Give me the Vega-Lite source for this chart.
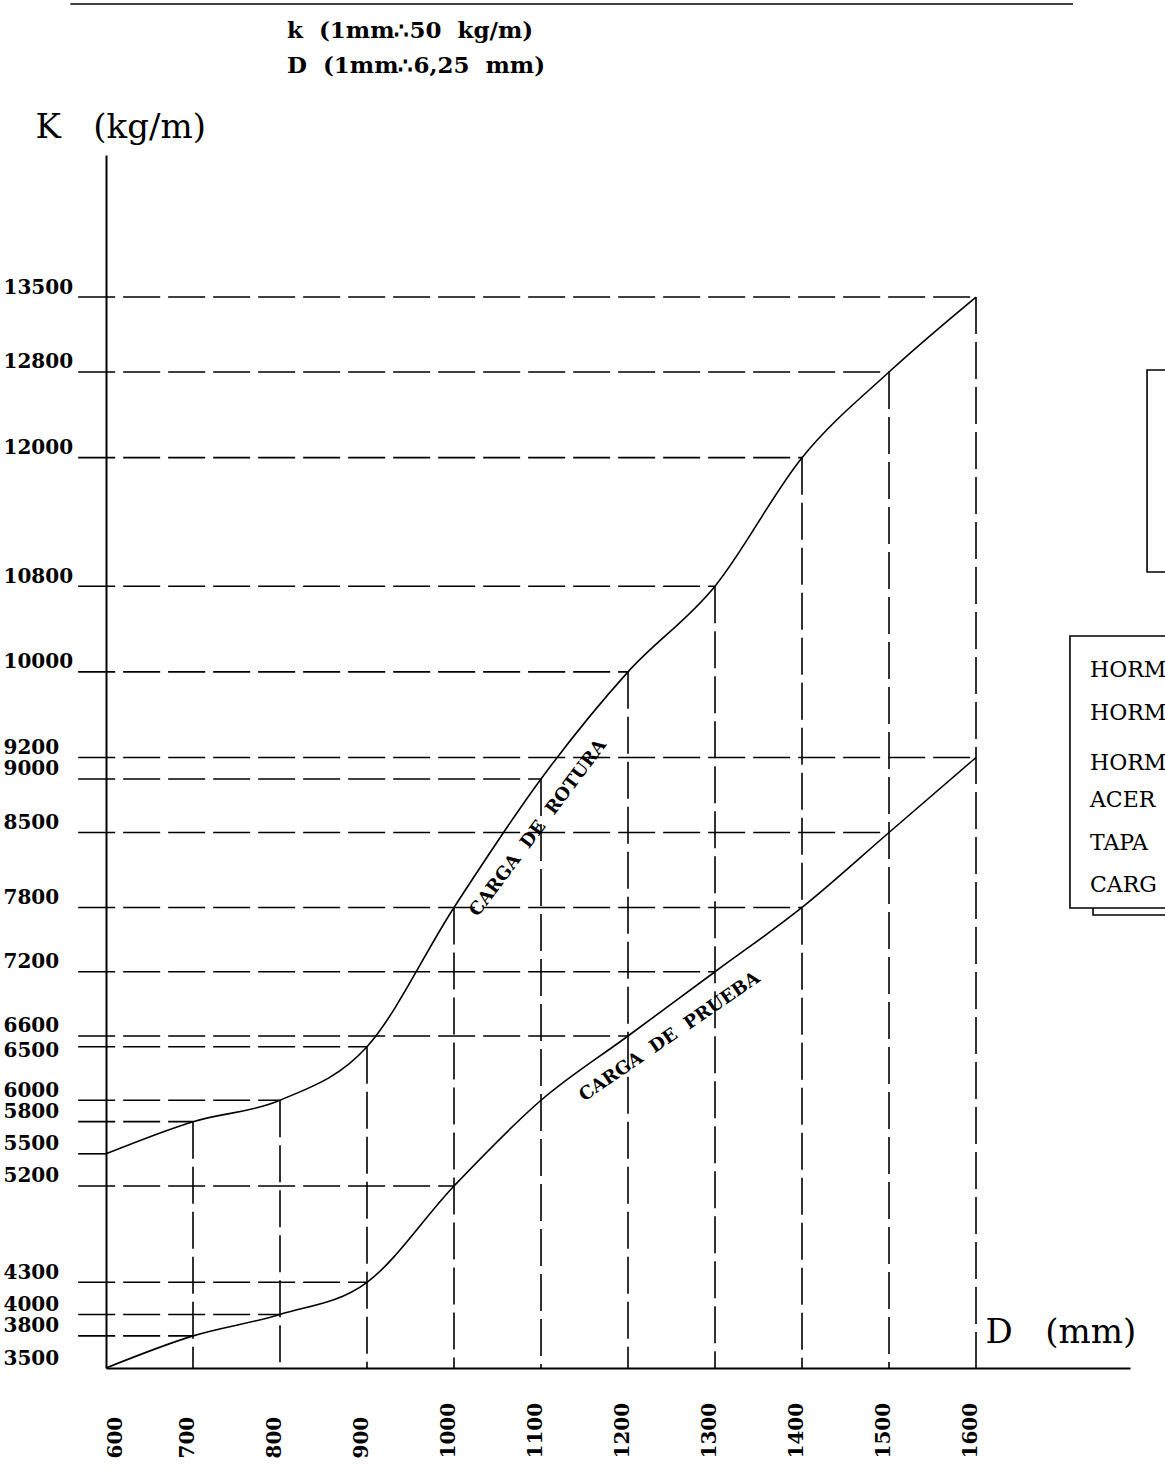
{
  "$schema": "https://vega.github.io/schema/vega-lite/v6.json",
  "width": 1024,
  "height": 1213,
  "autosize": {"type": "none"},
  "padding": {"left": 106, "top": 155, "right": 35, "bottom": 104},
  "background": "white",
  "config": {"view": {"stroke": null}, "font": "DejaVu Serif"},
  "datasets": {
    "curves": [
      {"curva": "rotura", "D": 600, "K": 5500},
      {"curva": "rotura", "D": 700, "K": 5800},
      {"curva": "rotura", "D": 800, "K": 6000},
      {"curva": "rotura", "D": 900, "K": 6500},
      {"curva": "rotura", "D": 1000, "K": 7800},
      {"curva": "rotura", "D": 1100, "K": 9000},
      {"curva": "rotura", "D": 1200, "K": 10000},
      {"curva": "rotura", "D": 1300, "K": 10800},
      {"curva": "rotura", "D": 1400, "K": 12000},
      {"curva": "rotura", "D": 1500, "K": 12800},
      {"curva": "rotura", "D": 1600, "K": 13500},
      {"curva": "prueba", "D": 600, "K": 3500},
      {"curva": "prueba", "D": 700, "K": 3800},
      {"curva": "prueba", "D": 800, "K": 4000},
      {"curva": "prueba", "D": 900, "K": 4300},
      {"curva": "prueba", "D": 1000, "K": 5200},
      {"curva": "prueba", "D": 1100, "K": 6000},
      {"curva": "prueba", "D": 1200, "K": 6600},
      {"curva": "prueba", "D": 1300, "K": 7200},
      {"curva": "prueba", "D": 1400, "K": 7800},
      {"curva": "prueba", "D": 1500, "K": 8500},
      {"curva": "prueba", "D": 1600, "K": 9200}
    ],
    "hlines": [
      {"K": 13500, "D_ini": 568, "D_end": 1600},
      {"K": 12800, "D_ini": 568, "D_end": 1500},
      {"K": 12000, "D_ini": 568, "D_end": 1400},
      {"K": 10800, "D_ini": 568, "D_end": 1300},
      {"K": 10000, "D_ini": 568, "D_end": 1200},
      {"K": 9200, "D_ini": 568, "D_end": 1600},
      {"K": 9000, "D_ini": 568, "D_end": 1100},
      {"K": 8500, "D_ini": 568, "D_end": 1500},
      {"K": 7800, "D_ini": 568, "D_end": 1400},
      {"K": 7200, "D_ini": 568, "D_end": 1300},
      {"K": 6600, "D_ini": 568, "D_end": 1200},
      {"K": 6500, "D_ini": 568, "D_end": 900},
      {"K": 6000, "D_ini": 568, "D_end": 800},
      {"K": 5800, "D_ini": 568, "D_end": 700},
      {"K": 5500, "D_ini": 568, "D_end": 600},
      {"K": 5200, "D_ini": 568, "D_end": 1000},
      {"K": 4300, "D_ini": 568, "D_end": 900},
      {"K": 4000, "D_ini": 568, "D_end": 800},
      {"K": 3800, "D_ini": 568, "D_end": 700}
    ],
    "vlines": [
      {"D": 700, "K_top": 5800},
      {"D": 800, "K_top": 6000},
      {"D": 900, "K_top": 6500},
      {"D": 1000, "K_top": 7800},
      {"D": 1100, "K_top": 9000},
      {"D": 1200, "K_top": 10000},
      {"D": 1300, "K_top": 10800},
      {"D": 1400, "K_top": 12000},
      {"D": 1500, "K_top": 12800},
      {"D": 1600, "K_top": 13500}
    ],
    "curvelabels": [
      {"curva": "rotura", "D": 1097, "K": 8540, "texto": "CARGA\u00a0\u00a0DE\u00a0\u00a0ROTURA"},
      {"curva": "prueba", "D": 1248, "K": 6590, "texto": "CARGA\u00a0\u00a0DE\u00a0\u00a0PRUEBA"}
    ],
    "header": [
      {"D": 808, "K": 15984, "texto": "k\u00a0\u00a0(1mm\u223450\u00a0\u00a0kg/m)"},
      {"D": 808, "K": 15657, "texto": "D\u00a0\u00a0(1mm\u22346,25\u00a0\u00a0mm)"}
    ],
    "headerline": [{"D": 559, "D_end": 1711.5, "K": 16236}],
    "boxes": [
      {"D": 1796.6, "D_end": 1900, "K": 12818, "K_end": 10932},
      {"D": 1734.5, "D_end": 1900, "K": 10200, "K_end": 7730},
      {"D": 1708, "D_end": 1900, "K": 10335, "K_end": 7795}
    ],
    "boxtext": [
      {"D": 1731, "K": 10017, "texto": "HORM"},
      {"D": 1731, "K": 9616, "texto": "HORM"},
      {"D": 1731, "K": 9149, "texto": "HORM"},
      {"D": 1731, "K": 8803, "texto": "ACER"},
      {"D": 1731, "K": 8402, "texto": "TAPA"},
      {"D": 1731, "K": 8010, "texto": "CARG"}
    ]
  },
  "layer": [
    {
      "data": {"name": "curves"},
      "mark": {"type": "line", "interpolate": "monotone", "color": "black", "strokeWidth": 1.6},
      "encoding": {
        "x": {
          "field": "D", "type": "quantitative",
          "scale": {"domain": [600, 1777], "nice": false, "zero": false},
          "axis": {
            "values": [600, 700, 800, 900, 1000, 1100, 1200, 1300, 1400, 1500, 1600],
            "format": "d",
            "title": "D\u00a0\u00a0\u00a0(mm)",
            "ticks": false, "grid": false,
            "domainColor": "black", "domainWidth": 2,
            "labelAngle": 270, "labelAlign": "left", "labelBaseline": "alphabetic",
            "labelOffset": {"condition": {"test": "datum.value === 600", "value": 15}, "value": 0},
            "labelPadding": 90, "labelFontSize": 20, "labelFontWeight": "bold",
            "labelColor": "black", "labelFont": "DejaVu Serif",
            "labelOverlap": false, "labelFlush": false, "labelBound": false,
            "titleAngle": 0, "titleAlign": "left", "titleBaseline": "alphabetic",
            "titleX": 879, "titleY": -26, "titleFont": "DejaVu Serif",
            "titleFontWeight": "normal", "titleFontSize": 34, "titleColor": "black"
          }
        },
        "y": {
          "field": "K", "type": "quantitative",
          "scale": {"domain": [3500, 14826], "nice": false, "zero": false},
          "axis": {
            "values": [3500, 3800, 4000, 4300, 5200, 5500, 5800, 6000, 6500, 6600, 7200, 7800, 8500, 9000, 9200, 10000, 10800, 12000, 12800, 13500],
            "format": "d",
            "title": "K\u00a0\u00a0\u00a0(kg/m)",
            "ticks": false, "grid": false,
            "domainColor": "black", "domainWidth": 2,
            "labelAlign": "left", "labelPadding": 103,
            "labelBaseline": "alphabetic",
            "labelOffset": {"condition": {"test": "datum.value === 6500", "value": 10}, "value": -4},
            "labelFontSize": 20, "labelFontWeight": "bold", "labelColor": "black",
            "labelFont": "DejaVu Serif",
            "labelOverlap": false, "labelFlush": false, "labelBound": false,
            "titleAngle": 0, "titleAlign": "left", "titleBaseline": "alphabetic",
            "titleX": -71, "titleY": -18, "titleFont": "DejaVu Serif",
            "titleFontWeight": "normal", "titleFontSize": 34, "titleColor": "black"
          }
        },
        "detail": {"field": "curva"}
      }
    },
    {
      "data": {"name": "hlines"},
      "mark": {"type": "rule", "color": "black", "strokeWidth": 1.6, "strokeDash": [37, 8]},
      "encoding": {
        "x": {"field": "D_ini", "type": "quantitative"},
        "x2": {"field": "D_end"},
        "y": {"field": "K", "type": "quantitative"}
      }
    },
    {
      "data": {"name": "vlines"},
      "mark": {"type": "rule", "color": "black", "strokeWidth": 1.6, "strokeDash": [37, 8]},
      "encoding": {
        "x": {"field": "D", "type": "quantitative"},
        "y": {"field": "K_top", "type": "quantitative"},
        "y2": {"datum": 3500}
      }
    },
    {
      "data": {"name": "curvelabels"},
      "transform": [{"filter": "datum.curva === 'rotura'"}],
      "mark": {"type": "text", "angle": 306.8, "font": "DejaVu Serif", "fontWeight": "bold", "fontSize": 18, "color": "black", "align": "center", "baseline": "middle"},
      "encoding": {
        "x": {"field": "D", "type": "quantitative"},
        "y": {"field": "K", "type": "quantitative"},
        "text": {"field": "texto"}
      }
    },
    {
      "data": {"name": "curvelabels"},
      "transform": [{"filter": "datum.curva === 'prueba'"}],
      "mark": {"type": "text", "angle": 325.6, "font": "DejaVu Serif", "fontWeight": "bold", "fontSize": 18, "color": "black", "align": "center", "baseline": "middle"},
      "encoding": {
        "x": {"field": "D", "type": "quantitative"},
        "y": {"field": "K", "type": "quantitative"},
        "text": {"field": "texto"}
      }
    },
    {
      "data": {"name": "header"},
      "mark": {"type": "text", "font": "DejaVu Serif", "fontWeight": "bold", "fontSize": 23, "color": "black", "align": "left", "baseline": "middle"},
      "encoding": {
        "x": {"field": "D", "type": "quantitative"},
        "y": {"field": "K", "type": "quantitative"},
        "text": {"field": "texto"}
      }
    },
    {
      "data": {"name": "headerline"},
      "mark": {"type": "rule", "color": "black", "strokeWidth": 1.6},
      "encoding": {
        "x": {"field": "D", "type": "quantitative"},
        "x2": {"field": "D_end"},
        "y": {"field": "K", "type": "quantitative"}
      }
    },
    {
      "data": {"name": "boxes"},
      "mark": {"type": "rect", "fill": "white", "stroke": "black", "strokeWidth": 1.6},
      "encoding": {
        "x": {"field": "D", "type": "quantitative"},
        "x2": {"field": "D_end"},
        "y": {"field": "K", "type": "quantitative"},
        "y2": {"field": "K_end"}
      }
    },
    {
      "data": {"name": "boxtext"},
      "mark": {"type": "text", "font": "DejaVu Serif", "fontWeight": "normal", "fontSize": 22, "color": "black", "align": "left", "baseline": "middle"},
      "encoding": {
        "x": {"field": "D", "type": "quantitative"},
        "y": {"field": "K", "type": "quantitative"},
        "text": {"field": "texto"}
      }
    }
  ]
}
